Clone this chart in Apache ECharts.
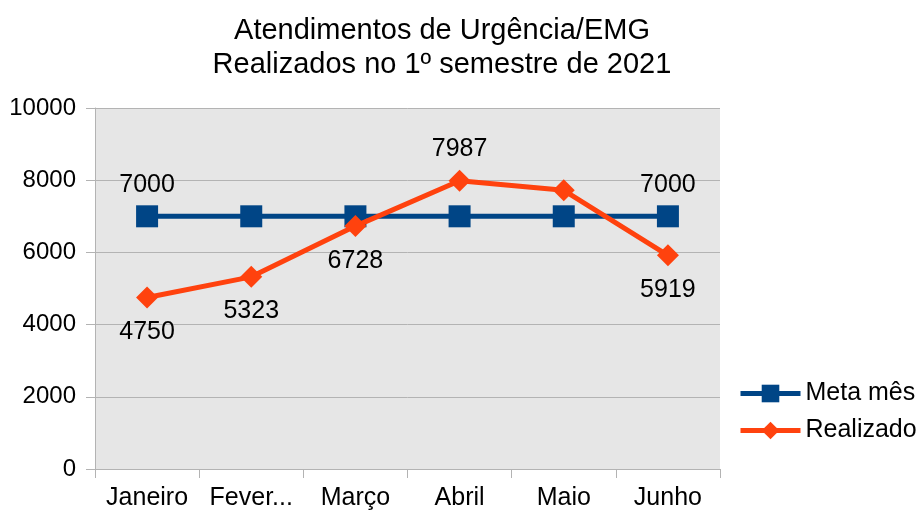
<!DOCTYPE html>
<html>
<head>
<meta charset="utf-8">
<script src="https://cdn.jsdelivr.net/npm/echarts@6/dist/echarts.min.js"></script>
<style>
  html, body { margin: 0; padding: 0; background: #fff; }
  #chart { width: 920px; height: 515px; }
</style>
</head>
<body>
<div id="chart"></div>
<script>
const months = ['Janeiro', 'Fevereiro', 'Março', 'Abril', 'Maio', 'Junho']
const metaMes = [7000, 7000, 7000, 7000, 7000, 7000]
const realizado = [4750, 5323, 6728, 7987, 7720, 5919]
// which points carry a value label, and where
const metaLabelPos = ['top', null, null, null, null, 'top']
const realLabelPos = ['bottom', 'bottom', 'bottom', 'top', null, 'bottom']

const font = 'Liberation Sans, Arial, sans-serif'

const withLabels = (values, positions) => values.map((v, i) => ({
  value: v,
  label: positions[i]
    ? { show: true, position: positions[i], distance: positions[i] === 'top' ? 8 : 11 }
    : { show: false }
}))

const chart = echarts.init(document.getElementById('chart'))

chart.setOption({
  animation: false,
  backgroundColor: '#ffffff',
  textStyle: { fontFamily: font },
  title: {
    text: 'Atendimentos de Urgência/EMG\nRealizados no 1º semestre de 2021',
    left: 437,
    textAlign: 'center',
    top: 9,
    textStyle: { fontFamily: font, fontSize: 29, fontWeight: 'normal', color: '#000', lineHeight: 34 }
  },
  legend: {
    orient: 'vertical',
    left: 738,
    top: 381,
    padding: 0,
    itemWidth: 60,
    itemHeight: 22,
    itemGap: 12,
    lineStyle: { width: 5 },
    textStyle: { fontFamily: font, fontSize: 25, color: '#000' },
    data: ['Meta mês', 'Realizado']
  },
  grid: {
    left: 95,
    right: 200,
    top: 108,
    bottom: 46
  },
  xAxis: {
    type: 'category',
    data: months,
    boundaryGap: true,
    axisLine: { lineStyle: { color: '#b3b3b3', width: 1 } },
    axisTick: { show: true, length: 9, lineStyle: { color: '#b3b3b3' } },
    axisLabel: {
      color: '#000', fontSize: 25, fontFamily: font, margin: 17,
      interval: 0,
      formatter: (s) => s.length > 8 ? s.slice(0, 5) + '...' : s
    },
    splitLine: { show: false }
  },
  yAxis: {
    type: 'value',
    min: 0,
    max: 10000,
    interval: 2000,
    axisLine: { show: true, lineStyle: { color: '#b3b3b3', width: 1 } },
    axisTick: { show: true, length: 9, lineStyle: { color: '#b3b3b3' } },
    axisLabel: { color: '#000', fontSize: 24, fontFamily: font, margin: 19, formatter: (v) => String(v) },
    splitLine: { show: true, lineStyle: { color: '#b3b3b3', width: 1 } },
    splitArea: { show: true, areaStyle: { color: ['#e6e6e6', '#e6e6e6'] } }
  },
  series: [
    {
      name: 'Meta mês',
      type: 'line',
      data: withLabels(metaMes, metaLabelPos),
      symbol: 'rect',
      symbolSize: 22,
      lineStyle: { color: '#004586', width: 5 },
      itemStyle: { color: '#004586' },
      label: { color: '#000', fontSize: 25, fontFamily: font },
      z: 2
    },
    {
      name: 'Realizado',
      type: 'line',
      data: withLabels(realizado, realLabelPos),
      symbol: 'diamond',
      symbolSize: 22,
      lineStyle: { color: '#ff420e', width: 5 },
      itemStyle: { color: '#ff420e' },
      label: { color: '#000', fontSize: 25, fontFamily: font },
      z: 3
    }
  ]
})
</script>
</body>
</html>
